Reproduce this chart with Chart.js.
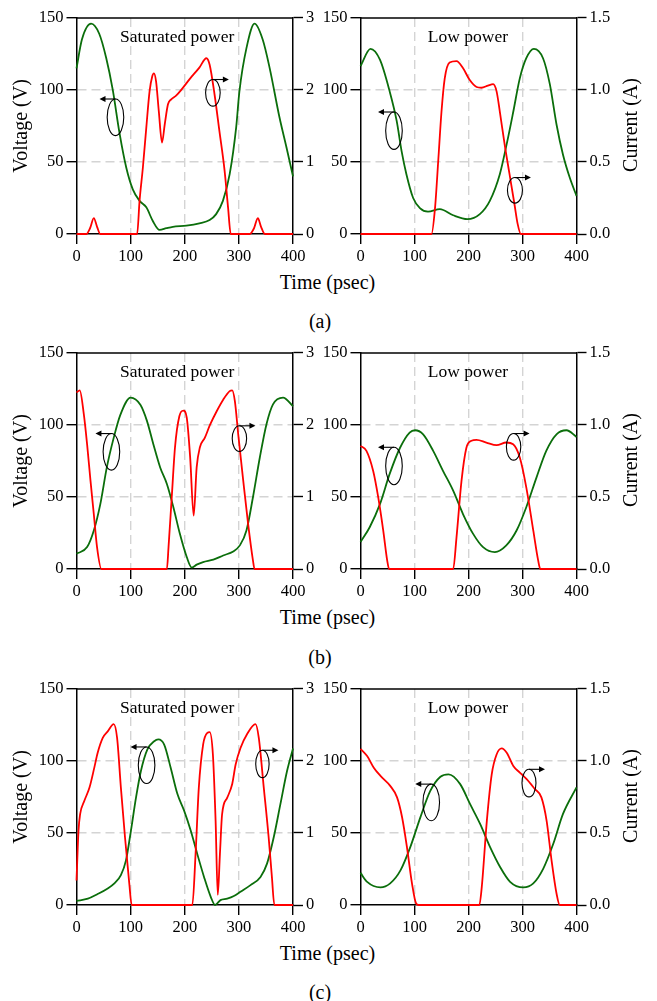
<!DOCTYPE html>
<html>
<head>
<meta charset="utf-8">
<script src="https://cdn.jsdelivr.net/npm/chart.js@4.4.1/dist/chart.umd.min.js"></script>
<style>
  body { margin: 0; background: #fff; }
  #page { position: relative; width: 657px; height: 1001px; }
  canvas { position: absolute; }
  .txt { position: absolute; font-family: "Liberation Serif", "Times New Roman", serif; font-size: 20px; line-height: 24px; text-align: center; color: #000; }
  .rot { width: 140px; transform: rotate(-90deg); }
</style>
</head>
<body>
<div id="page">
  <canvas id="satA" width="320" height="259" style="left:0px;top:5px"></canvas>
  <canvas id="lowA" width="342" height="259" style="left:315px;top:5px"></canvas>
  <canvas id="satB" width="320" height="259" style="left:0px;top:340px"></canvas>
  <canvas id="lowB" width="342" height="259" style="left:315px;top:340px"></canvas>
  <canvas id="satC" width="320" height="259" style="left:0px;top:675.5px"></canvas>
  <canvas id="lowC" width="342" height="259" style="left:315px;top:675.5px"></canvas>

  <div class="txt rot" style="left:560px;top:113px">Current (A)</div>
  <div class="txt rot" style="left:560px;top:448px">Current (A)</div>
  <div class="txt rot" style="left:560px;top:784px">Current (A)</div>

  <div class="txt" style="left:227.5px;width:200px;top:270px">Time (psec)</div>
  <div class="txt" style="left:270px;width:100px;top:309px">(a)</div>
  <div class="txt" style="left:227.5px;width:200px;top:605px">Time (psec)</div>
  <div class="txt" style="left:270px;width:100px;top:645px">(b)</div>
  <div class="txt" style="left:227.5px;width:200px;top:940.5px">Time (psec)</div>
  <div class="txt" style="left:270px;width:100px;top:980px">(c)</div>
</div>
<script>
// (a) saturated power
const satA_vt = [0, 10, 27, 42, 55, 67, 79.5, 92, 104, 116.5, 129, 141, 153.5, 166, 178, 203, 227, 246, 258, 270.5, 283, 295, 301, 314, 329, 344, 357, 375, 388, 400];
const satA_v  = [115, 135, 146, 139, 122, 100, 70, 46, 31, 23, 18.5, 9, 2.8, 4, 5, 5.8, 7.4, 9.7, 13.8, 23, 41.5, 74, 99, 129, 146, 135, 115, 81, 60, 40];
const satA_it = [0, 18, 25, 32, 38, 44, 112, 116.5, 122.6, 129, 135, 140, 143, 147, 152, 158, 163, 169, 175, 184, 193.5, 209, 227, 240, 246, 255, 264, 273.6, 280, 285, 320, 328, 335, 341, 348, 400];
const satA_i  = [0, 0, 0.08, 0.22, 0.1, 0, 0, 0.46, 0.92, 1.48, 1.98, 2.19, 2.23, 2.12, 1.71, 1.27, 1.52, 1.8, 1.87, 1.92, 2.0, 2.15, 2.31, 2.44, 2.35, 1.94, 1.43, 0.88, 0.37, 0, 0, 0.08, 0.22, 0.1, 0, 0];

// (a) low power
const lowA_vt = [0, 18.5, 36, 54, 67, 76, 85, 97.5, 110, 125, 147, 171.6, 198, 221, 239.5, 258, 270.5, 283, 295, 307, 321, 338, 350.6, 363, 375, 387.6, 400];
const lowA_v  = [116.5, 128.5, 121, 99, 78.5, 57.7, 41.5, 25, 18, 15.5, 17.3, 13, 10.3, 13.8, 23, 41.5, 62, 85, 108, 122, 128.5, 122, 104, 76, 55, 39, 26.5];
const lowA_it = [0, 131.5, 138, 144, 150, 156, 165, 177.8, 190, 202, 215, 224, 236, 245.7, 252, 258, 267, 276, 285, 291, 297, 400];
const lowA_i  = [0, 0, 0.18, 0.51, 0.85, 1.08, 1.19, 1.2, 1.15, 1.07, 1.02, 1.015, 1.03, 1.04, 0.99, 0.85, 0.62, 0.415, 0.21, 0.07, 0, 0];

// (b) saturated power
const satB_vt = [0, 19.6, 32, 44, 56, 68.7, 81, 100, 118, 130, 142, 154.6, 167, 179, 191, 203.7, 213, 222, 234, 252.8, 271, 289.6, 301.8, 314, 326, 338.7, 351, 363, 381.6, 400];
const satB_v  = [10.6, 15.2, 26.7, 45, 70.5, 91, 107, 119, 114, 103, 86.6, 70.5, 59, 42.9, 24.4, 8.3, 1, 3, 4.8, 6.5, 9.4, 12.2, 16.4, 26.7, 49.8, 77.4, 100.5, 114.3, 119, 113];
const satB_it = [0, 6, 13.5, 19.6, 25.8, 32, 38, 46, 167, 170, 176, 182, 190, 197.5, 203.7, 210, 216.5, 222, 228, 237, 246.6, 259, 271, 283, 287.7, 292.6, 298.8, 308, 317, 326, 329, 400];
const satB_i  = [2.45, 2.48, 2.15, 1.73, 1.23, 0.76, 0.3, 0, 0, 0.3, 1.0, 1.69, 2.12, 2.2, 2.1, 1.55, 0.74, 1.41, 1.69, 1.82, 2.0, 2.19, 2.35, 2.47, 2.48, 2.33, 1.87, 1.23, 0.63, 0.12, 0, 0];

// (b) low power
const lowB_vt = [0, 17, 36, 54, 73, 91, 101, 116, 134.6, 153, 171.6, 190, 208.6, 227, 248.8, 270, 289, 307, 326, 344, 363, 381.5, 400];
const lowB_v  = [18.7, 29, 45, 66, 84, 94.7, 96.3, 93.5, 82, 68, 54.4, 38, 24.4, 15.2, 11.75, 16.4, 26.7, 42.9, 63.6, 82, 93.5, 96.3, 91.7];
const lowB_it = [0, 11, 23.5, 32.7, 42, 49.4, 53, 171.6, 177.8, 187, 196, 205.5, 214.8, 233, 252, 270, 282.7, 295, 307, 320, 329, 333, 400];
const lowB_i  = [0.855, 0.82, 0.68, 0.5, 0.27, 0.06, 0, 0, 0.22, 0.61, 0.84, 0.89, 0.896, 0.878, 0.86, 0.878, 0.866, 0.774, 0.567, 0.267, 0.06, 0, 0];

// (c) saturated power
const satC_vt = [0, 21, 39, 57.7, 70, 82, 91.4, 100.6, 110, 119, 131, 143.6, 151, 162, 174, 186.5, 198.8, 211, 223, 235.6, 248, 256, 266, 278.5, 290.8, 303, 321.5, 340, 352, 364.4, 376.7, 389, 400];
const satC_v  = [2.8, 4.4, 7.6, 11.5, 15, 20.7, 31, 51.7, 74.7, 93, 108, 113.7, 114.9, 111.4, 95.3, 77, 65.5, 51.7, 35.6, 19.5, 5.7, 0, 3.4, 4.4, 6.2, 9.2, 13.8, 19.5, 28.7, 47, 70, 93, 108.7];
const satC_it = [0, 3.7, 6.7, 14.7, 24, 33, 39, 48.5, 57.7, 68.7, 75, 82, 89.6, 97.5, 102, 214, 220, 226, 234, 241.7, 246, 252, 257, 261, 265, 269, 278.5, 287.7, 294, 303, 315, 330.7, 336.8, 346, 355, 361, 365.6, 400];
const satC_i  = [0.34, 1.03, 1.26, 1.45, 1.63, 1.91, 2.11, 2.32, 2.41, 2.51, 2.32, 1.63, 0.94, 0.3, 0, 0, 0.71, 1.63, 2.23, 2.39, 2.4, 2.09, 1.17, 0.14, 0.71, 1.26, 1.49, 1.68, 1.95, 2.18, 2.37, 2.51, 2.32, 1.63, 0.94, 0.39, 0, 0];

// (c) low power
const lowC_vt = [0, 12.3, 37, 55, 74, 92, 111, 129, 148, 163, 184.6, 203, 221.5, 240, 258.5, 277, 301.5, 320, 338.5, 357, 375, 400];
const lowC_v  = [22.3, 16, 12.2, 15, 24, 40, 61, 79, 89, 90.7, 83.9, 70, 56.3, 40.2, 26.4, 16.1, 12.2, 15, 25.3, 42.5, 63.2, 81.6];
const lowC_it = [0, 12.3, 24.6, 37, 55, 67.7, 77, 86, 95.4, 103, 107.7, 220, 224.6, 234, 243, 252, 261.5, 270.8, 283, 295, 307.7, 323, 335, 344.6, 353.8, 363, 369, 400];
const lowC_i  = [1.084, 1.034, 0.953, 0.896, 0.827, 0.747, 0.609, 0.402, 0.149, 0.01, 0, 0, 0.126, 0.586, 0.907, 1.045, 1.087, 1.057, 0.965, 0.919, 0.873, 0.804, 0.747, 0.586, 0.31, 0.08, 0, 0];

const timeTicks = [0, 100, 200, 300, 400];

const SERIF = '"Liberation Serif", "Times New Roman", serif';
const GREEN = '#0b6e0b';
const RED = '#ff0000';
const GRID = '#d4d4d4';

function pts(ts, vs) {
  return ts.map((t, i) => ({ x: t, y: vs[i] }));
}

// top edge of the frame (the other three come from the axes)
const frameTop = {
  id: 'frameTop',
  beforeDatasetsDraw(chart) {
    const { ctx, chartArea: a } = chart;
    ctx.save();
    ctx.strokeStyle = '#000';
    ctx.lineWidth = 1.5;
    ctx.beginPath();
    ctx.moveTo(a.left, a.top);
    ctx.lineTo(a.right, a.top);
    ctx.stroke();
    ctx.restore();
  }
};

// panel caption plus the ellipse/arrow markers telling which axis a curve uses
const notes = {
  id: 'notes',
  afterDatasetsDraw(chart, args, opts) {
    const { ctx, chartArea: a } = chart;
    const xs = chart.scales.x, ys = chart.scales.y;
    ctx.save();
    ctx.fillStyle = '#000';
    ctx.font = '17.5px ' + SERIF;
    ctx.textAlign = 'center';
    ctx.textBaseline = 'middle';
    ctx.fillText(opts.label, xs.getPixelForValue(opts.labelT), a.top + 20);

    ctx.strokeStyle = '#000';
    ctx.lineWidth = 1.1;
    (opts.marks || []).forEach(m => {
      const cx = xs.getPixelForValue(m.t);
      const cy = ys.getPixelForValue(m.v);
      ctx.beginPath();
      ctx.ellipse(cx, cy, m.rx, m.ry, 0, 0, Math.PI * 2);
      ctx.stroke();
      const y0 = cy - m.ry;
      const x1 = cx + m.dir * 16;
      ctx.beginPath();
      ctx.moveTo(cx, y0);
      ctx.lineTo(x1 - m.dir * 4, y0);
      ctx.stroke();
      ctx.beginPath();
      ctx.moveTo(x1, y0);
      ctx.lineTo(x1 - m.dir * 6, y0 - 3);
      ctx.lineTo(x1 - m.dir * 6, y0 + 3);
      ctx.closePath();
      ctx.fill();
    });
    ctx.restore();
  }
};

function gridColor(maxVal) {
  return c => (c.tick && (c.tick.value === 0 || c.tick.value === maxVal)) ? 'rgba(0,0,0,0)' : GRID;
}

function makePanel(id, p) {
  const left = p.side === 'left';
  const tickFont = { family: SERIF, size: 16.5 };
  const titleFont = { family: SERIF, size: 20 };
  return new Chart(document.getElementById(id), {
    type: 'line',
    data: {
      datasets: [
        {
          label: 'Current',
          data: pts(p.it, p.i),
          yAxisID: 'y1',
          borderColor: RED,
          borderWidth: 1.8,
          pointRadius: 0,
          cubicInterpolationMode: 'monotone',
          clip: 3
        },
        {
          label: 'Voltage',
          data: pts(p.vt, p.v),
          yAxisID: 'y',
          borderColor: GREEN,
          borderWidth: 1.8,
          pointRadius: 0,
          cubicInterpolationMode: 'monotone',
          clip: 3
        }
      ]
    },
    options: {
      responsive: false,
      animation: false,
      devicePixelRatio: 1,
      layout: { padding: { top: 12, left: 0, right: 0, bottom: 0 } },
      plugins: {
        legend: { display: false },
        tooltip: { enabled: false },
        notes: { label: p.label, labelT: p.labelT, marks: p.marks }
      },
      scales: {
        x: {
          type: 'linear',
          min: 0,
          max: 400,
          afterBuildTicks: s => { s.ticks = timeTicks.map(v => ({ value: v })); },
          ticks: { color: '#000', font: tickFont, padding: 3, maxRotation: 0 },
          grid: { color: gridColor(400), lineWidth: 1.4, tickColor: '#000', tickLength: 10, tickWidth: 1.4, tickBorderDash: [] },
          border: { color: '#000', width: 1.5, dash: [9, 5] },
          afterFit: s => { s.height = 30; }
        },
        y: {
          position: 'left',
          min: 0,
          max: 150,
          ticks: { stepSize: 50, color: '#000', font: tickFont, padding: 3 },
          grid: { color: gridColor(150), lineWidth: 1.4, tickColor: '#000', tickLength: 10, tickWidth: 1.4, tickBorderDash: [] },
          border: { color: '#000', width: 1.5, dash: [9, 5] },
          title: { display: left, text: 'Voltage (V)', color: '#000', font: titleFont, padding: { top: 10, bottom: 0 } },
          afterFit: s => { s.width = left ? 76.5 : 45.5; }
        },
        y1: {
          position: 'right',
          min: 0,
          max: p.iMax,
          ticks: {
            stepSize: p.iStep,
            color: '#000',
            font: tickFont,
            padding: 3,
            callback: v => v.toFixed(p.iDec)
          },
          grid: { drawOnChartArea: false, tickColor: '#000', tickLength: 10, tickWidth: 1.4 },
          border: { color: '#000', width: 1.5 },
          afterFit: s => { s.width = left ? 27 : 80.5; }
        }
      }
    },
    plugins: [frameTop, notes]
  });
}

const satOpts = { side: 'left', iMax: 3, iStep: 1, iDec: 0, label: 'Saturated power', labelT: 186 };
const lowOpts = { side: 'right', iMax: 1.5, iStep: 0.5, iDec: 1, label: 'Low power', labelT: 199 };

makePanel('satA', Object.assign({}, satOpts, {
  vt: satA_vt, v: satA_v, it: satA_it, i: satA_i,
  marks: [{ t: 72, v: 81, rx: 8.3, ry: 18.3, dir: -1 }, { t: 252, v: 98, rx: 7.3, ry: 13.3, dir: 1 }]
}));
makePanel('lowA', Object.assign({}, lowOpts, {
  vt: lowA_vt, v: lowA_v, it: lowA_it, i: lowA_i,
  marks: [{ t: 62, v: 71.7, rx: 8.3, ry: 18.7, dir: -1 }, { t: 286, v: 30.3, rx: 7.5, ry: 12.8, dir: 1 }]
}));
makePanel('satB', Object.assign({}, satOpts, {
  vt: satB_vt, v: satB_v, it: satB_it, i: satB_i,
  marks: [{ t: 64.5, v: 81.3, rx: 8.3, ry: 18.3, dir: -1 }, { t: 301, v: 90.5, rx: 7.2, ry: 12.8, dir: 1 }]
}));
makePanel('lowB', Object.assign({}, lowOpts, {
  vt: lowB_vt, v: lowB_v, it: lowB_it, i: lowB_i,
  marks: [{ t: 62, v: 71.5, rx: 8.3, ry: 18.7, dir: -1 }, { t: 283.5, v: 84.8, rx: 7.2, ry: 13.3, dir: 1 }]
}));
makePanel('satC', Object.assign({}, satOpts, {
  vt: satC_vt, v: satC_v, it: satC_it, i: satC_i,
  marks: [{ t: 129.5, v: 97, rx: 8.3, ry: 18.3, dir: -1 }, { t: 343.5, v: 97.9, rx: 6.7, ry: 13.7, dir: 1 }]
}));
makePanel('lowC', Object.assign({}, lowOpts, {
  vt: lowC_vt, v: lowC_v, it: lowC_it, i: lowC_i,
  marks: [{ t: 131, v: 71.2, rx: 8.3, ry: 18.3, dir: -1 }, { t: 312, v: 84.6, rx: 7, ry: 13.8, dir: 1 }]
}));
</script>
</body>
</html>
